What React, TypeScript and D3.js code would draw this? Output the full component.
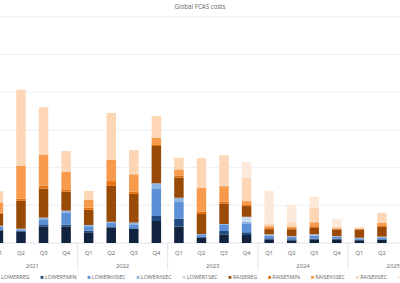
import React, { useRef, useEffect } from "react";
import * as d3 from "d3";

const years = ["2021", "2022", "2023", "2024", "2025"];
const quarters = ["Q1", "Q2", "Q3", "Q4"];

const seriesNames = [
  "LOWERREG",
  "LOWER5MIN",
  "LOWER60SEC",
  "LOWER6SEC",
  "LOWER1SEC",
  "RAISEREG",
  "RAISE5MIN",
  "RAISE60SEC",
  "RAISE6SEC",
  "RAISE1SEC",
];
const seriesColors = [
  "#11233f",
  "#1f4a7d",
  "#5b8fd6",
  "#8fb5e4",
  "#c9dcf2",
  "#994a07",
  "#e4700f",
  "#f79a4b",
  "#fcd6b5",
  "#fde9da",
];

// quarterly costs, 2021 Q1 .. 2025 Q2
const lowerReg = [16.3, 15.0, 22.1, 22.1, 14.2, 20.3, 18.6, 29.2, 21.6, 7.0, 11.5, 10.6, 4.9, 3.6, 4.9, 4.9, 3.6, 4.0];
const lower5min = [1.7, 1.3, 1.7, 2.3, 2.3, 1.7, 0.9, 6.6, 10.6, 1.3, 4.4, 3.6, 1.3, 1.3, 0.9, 0.7, 0.9, 0.9];
const lower60sec = [3.6, 1.7, 7.6, 15.5, 5.7, 4.4, 5.3, 35.8, 22.1, 2.3, 8.0, 11.0, 3.6, 3.0, 4.0, 2.7, 1.7, 2.3];
const lower6sec = [1.3, 0.9, 2.3, 3.0, 1.7, 1.7, 2.3, 7.6, 5.7, 1.3, 1.3, 3.0, 0.9, 0.7, 1.3, 0.4, 0.4, 0.9];
const lower1sec = [0, 0, 0, 0, 0, 0, 0, 0, 0, 0, 0, 6.6, 0.7, 0.4, 0.4, 0.3, 0.3, 0.3];
const raiseReg = [15.9, 37.1, 38.5, 25.2, 20.3, 47.7, 38.1, 49.5, 26.9, 26.5, 26.9, 14.2, 7.0, 9.3, 8.4, 8.9, 10.6, 12.9];
const raise5min = [1.3, 2.7, 4.0, 3.0, 2.7, 6.2, 3.0, 1.3, 2.7, 3.0, 3.0, 1.3, 1.3, 1.3, 2.3, 0.9, 0.9, 1.3];
const raise60sec = [13.7, 43.4, 41.1, 23.5, 10.2, 28.2, 22.9, 9.3, 8.0, 32.2, 20.3, 5.3, 2.7, 1.7, 5.3, 0.9, 0.9, 4.4];
const raise6sec = [15.0, 101.2, 62.7, 27.4, 11.9, 62.3, 32.2, 29.2, 15.5, 38.9, 41.1, 30.9, 3.0, 6.2, 19.5, 1.7, 1.3, 12.9];
const raise1sec = [0, 0, 0, 0, 0, 0, 0, 0, 0, 0, 0, 20.8, 43.8, 22.9, 14.2, 10.2, 0.8, 0.4];

const seriesValues = [
  lowerReg,
  lower5min,
  lower60sec,
  lower6sec,
  lower1sec,
  raiseReg,
  raise5min,
  raise60sec,
  raise6sec,
  raise1sec,
];

const yTicks = [0, 50, 100, 150, 200, 250, 300];

function FcasChart() {
  const svgRef = useRef<SVGSVGElement>(null);

  useEffect(() => {
    const svg = d3.select(svgRef.current);
    svg.selectAll("*").remove();

    const width = 400;
    const font = "'Open Sans', sans-serif";
    const textColor = "#666666";

    const periods: string[] = [];
    years.forEach((y) => quarters.forEach((q) => periods.push(`${y} ${q}`)));
    const shown = periods.slice(0, lowerReg.length);

    // table for the stack
    const table = lowerReg.map((_, i) => {
      const row: any = { period: periods[i] };
      seriesNames.forEach((s, k) => (row[s] = seriesValues[k][i]));
      return row;
    });
    const stacked = d3.stack().keys(seriesNames)(table);

    // the visual is cropped on the left, so the band range starts off-screen
    const xScale = d3
      .scaleBand()
      .domain(periods)
      .range([-6.3, 431.8])
      .paddingInner(0.58)
      .paddingOuter(0);
    const yScale = d3.scaleLinear().domain([0, 300]).range([243, 16.8]);
    const bw = xScale.bandwidth();
    const gap = xScale.step() - bw;

    // title
    svg
      .append("text")
      .attr("x", width / 2)
      .attr("y", 9)
      .attr("text-anchor", "middle")
      .attr("fill", textColor)
      .style("font-family", font)
      .style("font-size", "6.2px")
      .text("Global FCAS costs");

    // gridlines
    svg
      .append("g")
      .selectAll("line")
      .data(yTicks)
      .enter()
      .append("line")
      .attr("x1", 0)
      .attr("x2", width)
      .attr("y1", (d) => yScale(d))
      .attr("y2", (d) => yScale(d))
      .attr("stroke", (d) => (d === 0 ? "#e2e4ea" : "#eeeff4"))
      .attr("stroke-width", 1);

    // bars
    svg
      .append("g")
      .selectAll("g")
      .data(stacked)
      .enter()
      .append("g")
      .attr("fill", (_, k) => seriesColors[k])
      .selectAll("rect")
      .data((d) => d)
      .enter()
      .append("rect")
      .attr("x", (d: any) => xScale(d.data.period)!)
      .attr("y", (d) => yScale(d[1]))
      .attr("width", bw)
      .attr("height", (d) => Math.max(0, yScale(d[0]) - yScale(d[1])));

    // quarter labels
    svg
      .append("g")
      .selectAll("text")
      .data(shown)
      .enter()
      .append("text")
      .attr("x", (d) => xScale(d)! + bw / 2)
      .attr("y", 254.5)
      .attr("text-anchor", "middle")
      .attr("fill", textColor)
      .style("font-family", font)
      .style("font-size", "5.8px")
      .text((d) => d.split(" ")[1]);

    // year separators
    svg
      .append("g")
      .selectAll("line")
      .data(years.slice(1))
      .enter()
      .append("line")
      .attr("x1", (y) => xScale(`${y} Q1`)! - gap / 2)
      .attr("x2", (y) => xScale(`${y} Q1`)! - gap / 2)
      .attr("y1", 243)
      .attr("y2", 270)
      .attr("stroke", "#e4e6ec")
      .attr("stroke-width", 1);

    // year labels
    svg
      .append("g")
      .selectAll("text")
      .data(years)
      .enter()
      .append("text")
      .attr("x", (y) => (xScale(`${y} Q1`)! + xScale(`${y} Q4`)! + bw) / 2)
      .attr("y", 267.5)
      .attr("text-anchor", "middle")
      .attr("fill", textColor)
      .style("font-family", font)
      .style("font-size", "5.8px")
      .text((y) => y);

    // legend, centred under the plot
    const items = svg
      .append("g")
      .selectAll("g")
      .data(seriesNames)
      .enter()
      .append("g");
    items
      .append("rect")
      .attr("y", 276)
      .attr("width", 2.8)
      .attr("height", 2.8)
      .attr("fill", (_, k) => seriesColors[k]);
    items
      .append("text")
      .attr("x", 4.2)
      .attr("y", 279.3)
      .attr("fill", textColor)
      .style("font-family", font)
      .style("font-size", "5.4px")
      .text((d) => d);

    let cursor = 0;
    const offsets: number[] = [];
    items.each(function () {
      const t = d3.select(this).select("text").node() as SVGTextElement;
      offsets.push(cursor);
      cursor += 4.2 + t.getComputedTextLength() + 11;
    });
    const totalWidth = cursor - 11;
    const [r0, r1] = xScale.range();
    const start = (r0 + r1) / 2 - totalWidth / 2;
    items.attr("transform", (_, i) => `translate(${start + offsets[i]}, 0)`);
  }, []);

  return (
    <svg
      ref={svgRef}
      width={400}
      height={283}
      style={{ position: "absolute", left: 0, top: 0, display: "block", background: "#fff" }}
    ></svg>
  );
}

export default function App() {
  return <FcasChart />;
}
